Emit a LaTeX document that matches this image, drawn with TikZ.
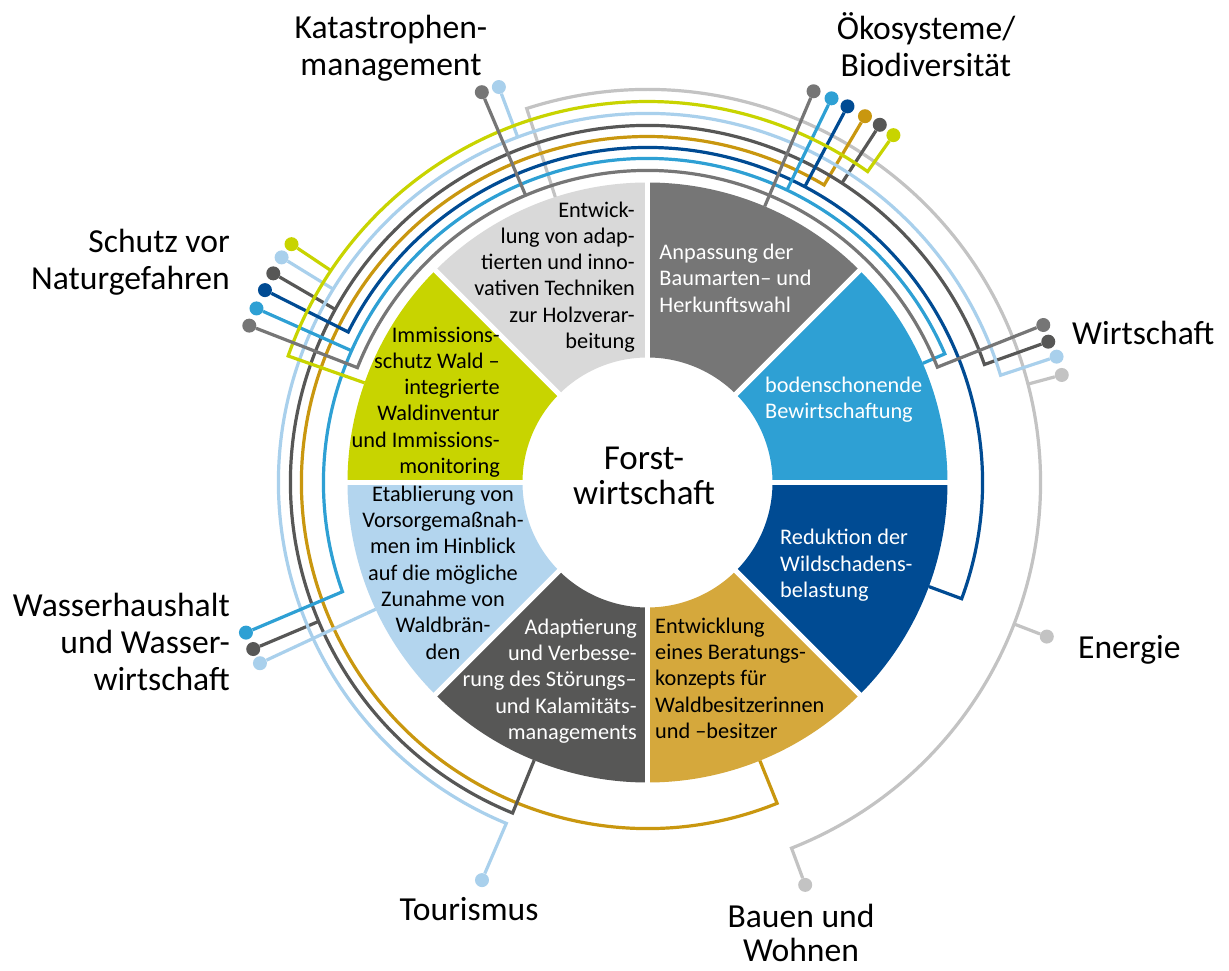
\documentclass[tikz,border=0pt]{standalone}
\usepackage{fontspec}
\setmainfont{Carlito}
\definecolor{secLG}{HTML}{D9D9D9}
\definecolor{linLG}{HTML}{C3C3C3}
\definecolor{colMG}{HTML}{767676}
\definecolor{colBL}{HTML}{2EA0D4}
\definecolor{colDB}{HTML}{004B93}
\definecolor{secGO}{HTML}{D5A83C}
\definecolor{linGO}{HTML}{C9970F}
\definecolor{colDG}{HTML}{575756}
\definecolor{secLB}{HTML}{B3D5EE}
\definecolor{linLB}{HTML}{A9D0EC}
\definecolor{colYE}{HTML}{C8D400}
\tikzset{
  ln/.style={line width=3.2pt},
  dot/.style={circle, inner sep=0pt, minimum size=14pt},
  sectxt/.style={font=\fontsize{22.3}{26.3}\selectfont, inner sep=0pt},
  outertxt/.style={font=\fontsize{33.6}{37}\selectfont, inner sep=0pt},
}
\newcommand{\annsec}[3]{\fill[#1] (#2:125pt) -- (#2:300pt) arc[start angle=#2,end angle=#3,radius=300pt] -- (#3:125pt) arc[start angle=#3,end angle=#2,radius=125pt] -- cycle;}
\begin{document}
\begin{tikzpicture}[x=1pt,y=1pt]
\fill[white] (-647.5,-488.5) rectangle (581.5,482.5);
\useasboundingbox (-647.5,-488.5) rectangle (581.5,482.5);
% sectors
\annsec{secLG}{90}{135}
\annsec{colMG}{45}{90}
\annsec{colBL}{0}{45}
\annsec{colDB}{-45}{0}
\annsec{secGO}{-90}{-45}
\annsec{colDG}{-135}{-90}
\annsec{secLB}{180}{225}
\annsec{colYE}{135}{180}
\foreach \a in {0,45,...,315}{\draw[white,line width=5pt] (\a:120pt) -- (\a:303pt);}
% dots
\node[dot,fill=colMG] (o1) at (67:425pt) {};
\node[dot,fill=colBL] (o2) at (64.4:426pt) {};
\node[dot,fill=colDB] (o3) at (62:426pt) {};
\node[dot,fill=linGO] (o4) at (59.3:426pt) {};
\node[dot,fill=colDG] (o5) at (57:426.5pt) {};
\node[dot,fill=colYE] (o6) at (54.7:425.6pt) {};
\node[dot,fill=colMG] (k1) at (113:424pt) {};
\node[dot,fill=linLB] (k2) at (110.6:422.5pt) {};
\node[dot,fill=colYE] (s1) at (146.2:428.4pt) {};
\node[dot,fill=linLB] (s2) at (148.4:429.6pt) {};
\node[dot,fill=colDG] (s3) at (150.8:428.7pt) {};
\node[dot,fill=colDB] (s4) at (153.3:428.2pt) {};
\node[dot,fill=colBL] (s5) at (156:428pt) {};
\node[dot,fill=colMG] (s6) at (158.5:428pt) {};
\node[dot,fill=colMG] (w1) at (21.7:426pt) {};
\node[dot,fill=colDG] (w2) at (19.36:424.8pt) {};
\node[dot,fill=linLB] (w3) at (17.1:428pt) {};
\node[dot,fill=linLG] (w4) at (14.55:428pt) {};
\node[dot,fill=colBL] (h1) at (200.5:428.7pt) {};
\node[dot,fill=colDG] (h2) at (202.9:428pt) {};
\node[dot,fill=linLB] (h3) at (205:427.6pt) {};
\node[dot,fill=linLB] (t1) at (247.4:430.7pt) {};
\node[dot,fill=linLG] (bw) at (291.4:432.2pt) {};
\node[dot,fill=linLG] (en) at (-21.1:428pt) {};
% light grey
\draw[ln,linLG] (107.9:300pt) -- (107.9:393pt) arc[start angle=107.9,end angle=-68.5,radius=393pt] -- (bw);
\draw[ln,linLG] (14.5:393pt) -- (w4);
\draw[ln,linLG] (-21.1:393pt) -- (en);
% gold
\draw[ln,linGO] (292:300pt) -- (292:346pt) arc[start angle=292,end angle=59.3,radius=346pt] -- (o4);
% dark grey
\draw[ln,colDG] (247.8:300pt) -- (247.8:357pt) arc[start angle=247.8,end angle=19.3,radius=357pt] -- (w2);
\draw[ln,colDG] (57:357pt) -- (o5);
\draw[ln,colDG] (151:357pt) -- (s3);
\draw[ln,colDG] (202.9:357pt) -- (h2);
% light blue
\draw[ln,linLB] (t1) -- (247.5:369pt) arc[start angle=247.5,end angle=16.9,radius=369pt] -- (w3);
\draw[ln,linLB] (110.6:369pt) -- (k2);
\draw[ln,linLB] (148.4:369pt) -- (s2);
\draw[ln,linLB] (205:300pt) -- (h3);
% dark blue
\draw[ln,colDB] (-20.3:300pt) -- (-20.3:335pt) arc[start angle=-20.3,end angle=153.3,radius=335pt] -- (s4);
\draw[ln,colDB] (62:335pt) -- (o3);
% blue
\draw[ln,colBL] (23.4:300pt) -- (23.4:324pt) arc[start angle=23.4,end angle=199.7,radius=324pt] -- (h1);
\draw[ln,colBL] (64.5:324pt) -- (o2);
\draw[ln,colBL] (156:324pt) -- (s5);
% yellow
\draw[ln,colYE] (160.6:300pt) -- (160.6:381pt) arc[start angle=160.6,end angle=54.7,radius=381pt] -- (o6);
\draw[ln,colYE] (146.2:381pt) -- (s1);
% medium grey
\draw[ln,colMG] (w1) -- (21.7:312pt) arc[start angle=21.7,end angle=158.4,radius=312pt] -- (s6);
\draw[ln,colMG] (67:300pt) -- (o1);
\draw[ln,colMG] (113:312pt) -- (k1);
% sector texts
\node[sectxt,align=right,anchor=east] (tLG) at (-12.5,205) {\strut Entwick-\\lung von adap-\\tierten und inno-\\vativen Techniken\\zur Holzverar-\\beitung\strut};
\node[sectxt,align=left,anchor=west,text=white] (tMG) at (11.8,201.8) {\strut Anpassung der\\Baumarten– und\\Herkunftswahl\strut};
\node[sectxt,align=left,anchor=west,text=white] (tBL) at (117.5,82.5) {\strut bodenschonende\\Bewirtschaftung\strut};
\node[sectxt,align=left,anchor=west,text=white] (tDB) at (132.5,-83.5) {\strut Reduktion der\\Wildschadens-\\belastung\strut};
\node[sectxt,align=left,anchor=west] (tGO) at (7.5,-198) {\strut Entwicklung\\eines Beratungs-\\konzepts für\\Waldbesitzerinnen\\und –besitzer\strut};
\node[sectxt,align=right,anchor=east,text=white] (tDG) at (-10.5,-199) {\strut Adaptierung\\und Verbesse-\\rung des Störungs–\\und Kalamitäts-\\managements\strut};
\node[sectxt,align=center] (tLB) at (-204.5,-92.5) {\strut Etablierung von\\Vorsorgemaßnah-\\men im Hinblick\\auf die mögliche\\Zunahme von\\Waldbrän-\\den\strut};
\node[sectxt,align=right,anchor=east] (tYE) at (-147.5,80) {\strut Immissions-\\schutz Wald –\\integrierte\\Waldinventur\\und Immissions-\\monitoring\strut};
\node[font=\fontsize{35}{35.5}\selectfont,inner sep=0pt,align=center] (center) at (-3.5,2.5) {\strut Forst-\\wirtschaft\strut};
% outer labels
\node[outertxt,align=center] (lK) at (-256.5,432.5) {\strut Katastrophen-\\management\strut};
\node[outertxt,align=center] (lO) at (278.5,432.5) {\strut Ökosysteme/\\Biodiversität\strut};
\node[outertxt,align=right,anchor=east] (lS) at (-417.5,218.5) {\strut Schutz vor\\Naturgefahren\strut};
\node[outertxt,anchor=west] (lW) at (424.5,145.5) {\strut Wirtschaft};
\node[outertxt,anchor=west] (lE) at (430.5,-168.5) {\strut Energie};
\node[outertxt,align=right,anchor=east] (lH) at (-417.5,-163.5) {\strut Wasserhaushalt\\und Wasser-\\wirtschaft\strut};
\node[outertxt] (lT) at (-178.5,-430.8) {\strut Tourismus};
\node[outertxt,align=center] (lB) at (153.5,-449) {\strut Bauen und\\[-3pt]Wohnen};
\end{tikzpicture}
\end{document}
